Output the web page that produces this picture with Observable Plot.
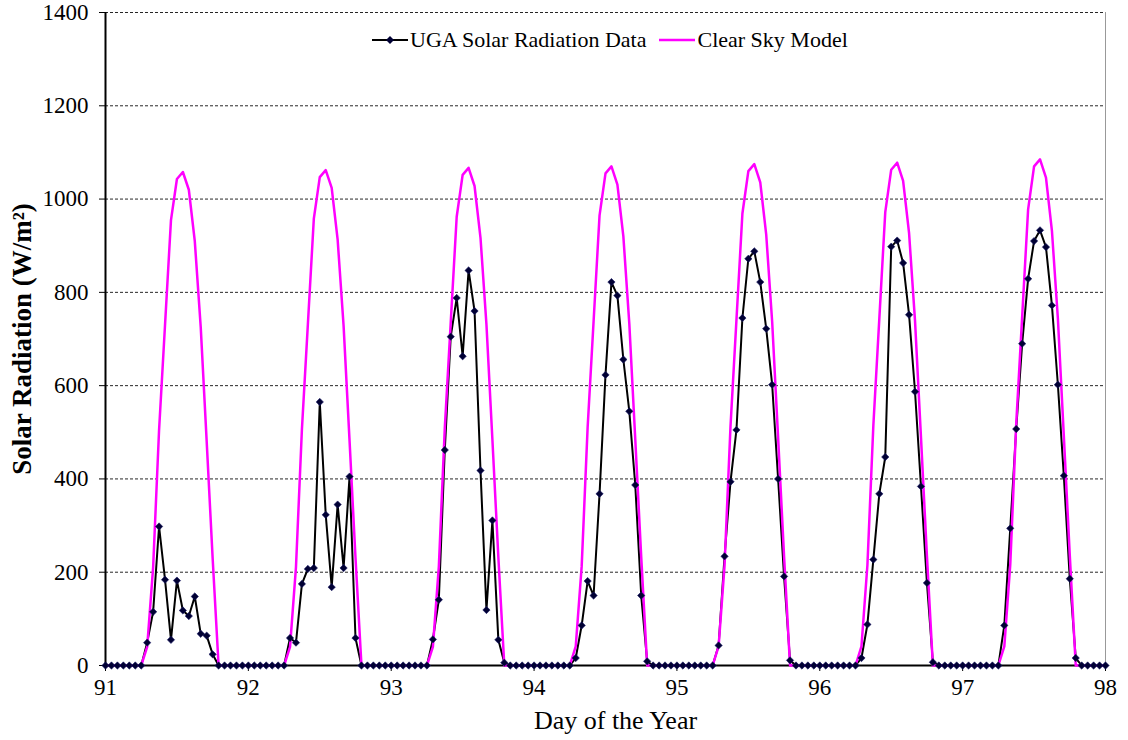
<!DOCTYPE html>
<html><head><meta charset="utf-8">
<script src="https://cdn.jsdelivr.net/npm/d3@7"></script>
<script src="https://cdn.jsdelivr.net/npm/@observablehq/plot@0.6"></script>
<style>
body{margin:0;background:#fff;font-family:"Liberation Serif","Times New Roman",serif;}
#wrap{position:relative;width:1128px;height:740px;}
#legend{position:absolute;top:27px;left:372px;display:flex;align-items:center;font-size:22px;color:#000;white-space:nowrap;}
#legend .item{display:flex;align-items:center;margin-right:13px;}
#legend svg{margin-right:2px;}
</style></head>
<body><div id="wrap"><div id="chart"></div>
<div id="legend"></div></div>
<script>
const days = [91, 92, 93, 94, 95, 96, 97];
const xTicks = [91, 92, 93, 94, 95, 96, 97, 98];
const yTicks = [0, 200, 400, 600, 800, 1000, 1200, 1400];
const seriesNames = ["UGA Solar Radiation Data", "Clear Sky Model"];

// hourly values, hours 0..23 for each day
const uga91 = [0,0,0,0,0,0,0,49,115,298,184,55,182,118,106,148,68,64,24,0,0,0,0,0];
const uga92 = [0,0,0,0,0,0,0,59,49,175,207,209,565,323,168,345,209,405,59,0,0,0,0,0];
const uga93 = [0,0,0,0,0,0,0,56,141,462,705,788,663,847,760,418,119,311,55,6,0,0,0,0];
const uga94 = [0,0,0,0,0,0,0,16,86,181,150,368,623,822,793,656,545,387,150,9,0,0,0,0];
const uga95 = [0,0,0,0,0,0,0,43,234,394,505,745,872,888,822,722,602,400,191,11,0,0,0,0];
const uga96 = [0,0,0,0,0,0,0,16,88,227,368,447,898,911,863,752,587,384,177,7,0,0,0,0];
const uga97 = [0,0,0,0,0,0,0,86,294,507,690,829,910,933,897,772,602,407,186,16,0,0,0,0];

const clear91 = [0,0,0,0,0,0,0,40,210,505,730,955,1043,1058,1020,910,725,480,230,0,0,0,0,0];
const clear92 = [0,0,0,0,0,0,0,40,211,507,732,958,1047,1062,1024,913,728,482,231,0,0,0,0,0];
const clear93 = [0,0,0,0,0,0,0,40,212,509,736,962,1052,1067,1028,917,731,484,232,0,0,0,0,0];
const clear94 = [0,0,0,0,0,0,0,41,213,511,738,965,1055,1070,1031,920,733,485,233,0,0,0,0,0];
const clear95 = [0,0,0,0,0,0,0,41,214,513,741,969,1060,1075,1036,924,737,488,234,0,0,0,0,0];
const clear96 = [0,0,0,0,0,0,0,41,215,515,743,972,1063,1078,1039,927,739,489,235,0,0,0,0,0];
const clear97 = [0,0,0,0,0,0,0,41,216,518,748,978,1070,1085,1046,932,744,492,236,0,0,0,0,0];
const endValue = 0; // reading at day 98, hour 0

const ugaDays = [uga91, uga92, uga93, uga94, uga95, uga96, uga97];
const clearDays = [clear91, clear92, clear93, clear94, clear95, clear96, clear97];

function build(arrs) {
  const out = [];
  arrs.forEach((a, i) => a.forEach((v, h) => out.push({t: days[i] + h / 24, v})));
  out.push({t: xTicks[xTicks.length - 1], v: endValue});
  return out;
}
const uga = build(ugaDays);
const clear = build(clearDays);

const FONT = '"Liberation Serif","Times New Roman",serif';
const chart = Plot.plot({
  width: 1128, height: 740,
  marginLeft: 105, marginRight: 23, marginTop: 12, marginBottom: 75,
  style: {fontFamily: FONT, fontSize: "23px", color: "#000", background: "#fff", overflow: "visible"},
  x: {domain: [xTicks[0], xTicks[xTicks.length - 1]], label: null},
  y: {domain: [yTicks[0], yTicks[yTicks.length - 1]], label: null},
  marks: [
    Plot.gridY(yTicks.slice(1), {stroke: "#000", strokeOpacity: 0.85, strokeDasharray: "3,2", strokeWidth: 1}),
    Plot.ruleX([xTicks[xTicks.length - 1]], {stroke: "#999", strokeWidth: 1}),
    Plot.axisY(yTicks, {tickSize: 6, tickPadding: 11, fontSize: 23, label: null, tickFormat: d => String(d)}),
    Plot.axisX(xTicks, {tickSize: 6, tickPadding: 7, fontSize: 23, label: null, tickFormat: d => String(d)}),
    Plot.ruleX([xTicks[0]], {stroke: "#000", strokeWidth: 2}),
    Plot.ruleY([yTicks[0]], {stroke: "#000", strokeWidth: 2}),
    Plot.line(uga, {x: "t", y: "v", stroke: "#000", strokeWidth: 2}),
    Plot.line(clear, {x: "t", y: "v", stroke: "#ff00ff", strokeWidth: 2.5}),
    Plot.dot(uga, {x: "t", y: "v", symbol: "diamond2", r: 3.3, fill: "#000033", stroke: "#1a1a66", strokeWidth: 0.6}),
    Plot.text(["Solar Radiation (W/m²)"], {frameAnchor: "left", textAnchor: "middle", dx: -83, rotate: -90, fontSize: 27, fontWeight: "bold", fill: "#000"}),
    Plot.text(["Day of the Year"], {frameAnchor: "bottom", dy: 63, dx: 10, fontSize: 26, fill: "#000"})
  ]
});
document.getElementById("chart").appendChild(chart);

// legend
const lg = document.getElementById("legend");
lg.innerHTML =
  `<span class="item"><svg width="36" height="12"><line x1="0" y1="6" x2="36" y2="6" stroke="#000" stroke-width="2"/><path d="M18,2 L22,6 L18,10 L14,6 Z" fill="#000033"/></svg>${seriesNames[0]}</span>` +
  `<span class="item"><svg width="36" height="12"><line x1="0" y1="6" x2="36" y2="6" stroke="#ff00ff" stroke-width="2.5"/></svg>${seriesNames[1]}</span>`;
</script></body></html>
